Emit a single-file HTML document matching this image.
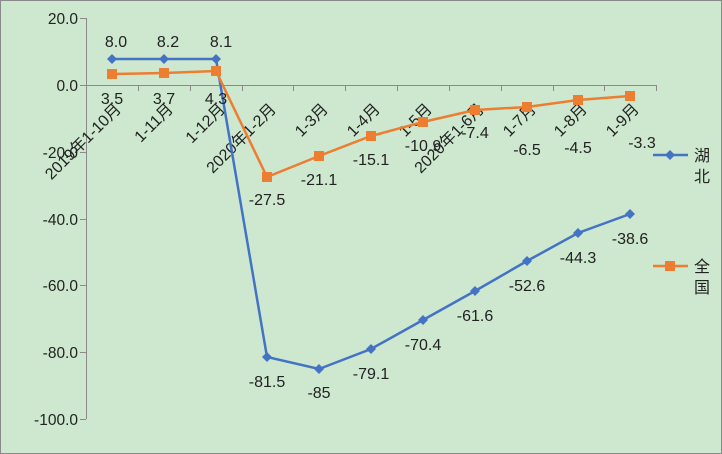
<!DOCTYPE html>
<html><head><meta charset="utf-8"><style>
html,body{margin:0;padding:0;background:#cde8cf;}
svg{display:block;font-family:"Liberation Sans","Noto Sans CJK SC",sans-serif;}
</style></head><body>
<svg width="722" height="454" viewBox="0 0 722 454">
<rect x="0.5" y="0.5" width="721" height="453" fill="#cde8cf" stroke="#8a8a8a"/>
<g fill="#222" font-size="15.5" text-anchor="end">
<text x="78" y="24">20.0</text>
<text x="78" y="91">0.0</text>
<text x="78" y="158">-20.0</text>
<text x="78" y="225">-40.0</text>
<text x="78" y="291">-60.0</text>
<text x="78" y="358">-80.0</text>
<text x="78" y="425">-100.0</text>
</g>
<g stroke="#8a8a8a" stroke-width="1" fill="none">
<line x1="86.5" y1="18" x2="86.5" y2="419"/>
<line x1="80" y1="18.5" x2="86" y2="18.5"/>
<line x1="80" y1="85.5" x2="86" y2="85.5"/>
<line x1="80" y1="152.5" x2="86" y2="152.5"/>
<line x1="80" y1="219.5" x2="86" y2="219.5"/>
<line x1="80" y1="285.5" x2="86" y2="285.5"/>
<line x1="80" y1="352.5" x2="86" y2="352.5"/>
<line x1="80" y1="419.5" x2="86" y2="419.5"/>
<line x1="86" y1="85.5" x2="657" y2="85.5"/>
<path d="M138.5 85v6M190.5 85v6M242.5 85v6M293.5 85v6M345.5 85v6M397.5 85v6M449.5 85v6M501.5 85v6M553.5 85v6M604.5 85v6M656.5 85v6"/>
</g>
<g fill="#222" font-size="16" text-anchor="end">
<text transform="translate(122,110) rotate(-45)">2019年1-10月</text>
<text transform="translate(174,110) rotate(-45)">1-11月</text>
<text transform="translate(226,110) rotate(-45)">1-12月</text>
<text transform="translate(277,110) rotate(-45)">2020年1-2月</text>
<text transform="translate(329,110) rotate(-45)">1-3月</text>
<text transform="translate(381,110) rotate(-45)">1-4月</text>
<text transform="translate(433,110) rotate(-45)">1-5月</text>
<text transform="translate(485,110) rotate(-45)">2020年1-6月</text>
<text transform="translate(537,110) rotate(-45)">1-7月</text>
<text transform="translate(588,110) rotate(-45)">1-8月</text>
<text transform="translate(640,110) rotate(-45)">1-9月</text>
</g>
<polyline fill="none" stroke="#4472c4" stroke-width="2.5" points="112,59 164,59 216,59 267,357 319,369 371,349 423,320 475,291 527,261 578,233 630,214"/>
<g fill="#4472c4">
<path d="M112 54l5 5-5 5-5-5z"/><path d="M164 54l5 5-5 5-5-5z"/><path d="M216 54l5 5-5 5-5-5z"/>
<path d="M267 352l5 5-5 5-5-5z"/><path d="M319 364l5 5-5 5-5-5z"/><path d="M371 344l5 5-5 5-5-5z"/>
<path d="M423 315l5 5-5 5-5-5z"/><path d="M475 286l5 5-5 5-5-5z"/><path d="M527 256l5 5-5 5-5-5z"/>
<path d="M578 228l5 5-5 5-5-5z"/><path d="M630 209l5 5-5 5-5-5z"/>
</g>
<polyline fill="none" stroke="#ed7d31" stroke-width="2.5" points="112,74 164,73 216,71 267,177 319,156 371,136 423,122 475,110 527,107 578,100 630,96"/>
<g fill="#ed7d31">
<rect x="107" y="69" width="10" height="10"/><rect x="159" y="68" width="10" height="10"/><rect x="211" y="66" width="10" height="10"/>
<rect x="262" y="172" width="10" height="10"/><rect x="314" y="151" width="10" height="10"/><rect x="366" y="131" width="10" height="10"/>
<rect x="418" y="117" width="10" height="10"/><rect x="470" y="105" width="10" height="10"/><rect x="522" y="102" width="10" height="10"/>
<rect x="573" y="95" width="10" height="10"/><rect x="625" y="91" width="10" height="10"/>
</g>
<g fill="#222" font-size="16" text-anchor="middle">
<text x="116" y="47">8.0</text><text x="168" y="47">8.2</text><text x="221" y="47">8.1</text>
<text x="112" y="104">3.5</text><text x="164" y="104">3.7</text><text x="216" y="104">4.3</text>
<text x="267" y="205">-27.5</text><text x="319" y="185">-21.1</text><text x="371" y="165">-15.1</text>
<text x="423" y="151">-10.9</text><text x="475" y="138">-7.4</text><text x="527" y="155">-6.5</text>
<text x="578" y="153">-4.5</text><text x="642" y="148">-3.3</text>
<text x="267" y="387">-81.5</text><text x="319" y="398">-85</text><text x="371" y="379">-79.1</text>
<text x="423" y="350">-70.4</text><text x="475" y="321">-61.6</text><text x="527" y="291">-52.6</text>
<text x="578" y="263">-44.3</text><text x="630" y="244">-38.6</text>
</g>
<line x1="653" y1="155" x2="688" y2="155" stroke="#4472c4" stroke-width="2.5"/>
<path d="M670 150l5 5-5 5-5-5z" fill="#4472c4"/>
<line x1="653" y1="266" x2="688" y2="266" stroke="#ed7d31" stroke-width="2.5"/>
<rect x="665" y="261" width="10" height="10" fill="#ed7d31"/>
<g fill="#222" font-size="16">
<text x="694" y="161">湖</text><text x="694" y="182">北</text>
<text x="694" y="272">全</text><text x="694" y="293">国</text>
</g>
</svg>
</body></html>
